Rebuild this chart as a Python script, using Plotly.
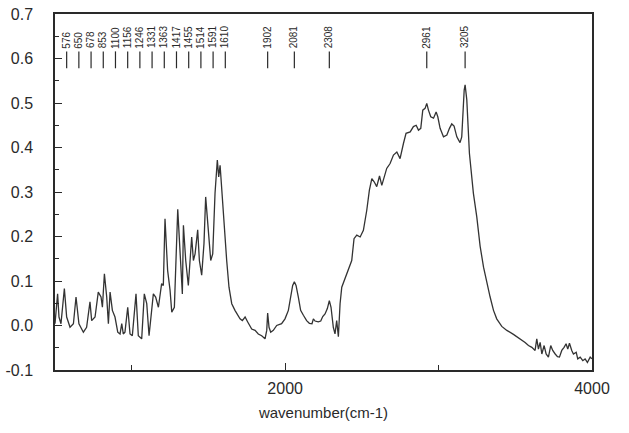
import plotly.graph_objects as go

# ---- data ----
wavenumber = [
    500, 511, 517, 526, 539, 561, 576, 598, 620, 637, 656, 685, 706, 728, 739, 761, 782, 800, 809, 822,
    837, 848, 859, 874, 891, 909, 924, 935, 945, 956, 974, 989, 1004, 1028, 1043, 1065, 1082, 1098, 1113,
    1141, 1156, 1174, 1195, 1206, 1217, 1234, 1250, 1261, 1278, 1300, 1315, 1330, 1337, 1352, 1369, 1391,
    1402, 1413, 1430, 1441, 1456, 1471, 1482, 1495, 1515, 1528, 1543, 1558, 1567, 1576, 1587, 1604, 1619,
    1634, 1652, 1673, 1691, 1706, 1721, 1739, 1756, 1782,
    1804, 1825, 1847, 1869, 1880, 1886, 1895, 1906, 1923, 1945, 1977, 1999, 2021, 2036, 2049, 2060, 2071,
    2086, 2101, 2119, 2140, 2158, 2175, 2184, 2195, 2216, 2232, 2245, 2260, 2275, 2288, 2299, 2314, 2325,
    2336, 2347,
    2358, 2369, 2391, 2413, 2434, 2449, 2467, 2489, 2510, 2532, 2549, 2565, 2580, 2597, 2615, 2630, 2645,
    2662, 2684, 2706, 2728, 2749, 2771, 2788, 2815, 2836, 2854, 2869, 2884, 2897, 2912, 2923, 2934, 2949,
    2967, 2984, 2995, 3010, 3032, 3054, 3071, 3086, 3101, 3119, 3130, 3140, 3151, 3158, 3167, 3173, 3184,
    3201, 3227, 3249,
    3271, 3293, 3314, 3336, 3358, 3379, 3412, 3445, 3488, 3532, 3564, 3586, 3608, 3629, 3640, 3651, 3662,
    3673, 3688, 3701, 3716, 3731, 3744, 3760, 3775, 3788, 3803, 3818, 3831, 3842, 3853, 3868, 3879, 3897,
    3907, 3923, 3940, 3955, 3970, 3988, 3999,
]
absorbance = [
    0.004, 0.049, 0.071, 0.019, 0.004, 0.083, 0.019, -0.004, 0.004, 0.064, 0.004, -0.015, -0.004, 0.053,
    0.011, 0.019, 0.075, 0.064, 0.041, 0.116, 0.064, 0.004, 0.075, 0.034, 0.019, -0.015, -0.019, 0.004,
    -0.019, -0.015, 0.041, -0.019, -0.023, 0.071, -0.023, -0.030, 0.071, 0.049, -0.023, 0.071, 0.064,
    0.041, 0.094, 0.090, 0.240, 0.124, 0.079, 0.030, 0.041, 0.261, 0.154, 0.071, 0.225, 0.146, 0.090,
    0.199, 0.146, 0.161, 0.215, 0.146, 0.113, 0.184, 0.289, 0.229, 0.146, 0.161, 0.297, 0.372, 0.334,
    0.360, 0.304, 0.199, 0.146, 0.086, 0.049, 0.034, 0.023, 0.015, 0.011, 0.019, 0.008, -0.008,
    -0.011, -0.019, -0.023, -0.030, -0.011, 0.028, -0.004, -0.015, -0.011, 0.000, 0.004, 0.015, 0.034,
    0.064, 0.090, 0.098, 0.090, 0.064, 0.034, 0.023, 0.011, 0.005, 0.004, 0.015, 0.010, 0.008, 0.010,
    0.020, 0.026, 0.038, 0.056, 0.041, -0.004, -0.019, 0.011, -0.025,
    0.049, 0.086, 0.105, 0.128, 0.146, 0.195, 0.203, 0.199, 0.214, 0.259, 0.304, 0.330, 0.323, 0.312,
    0.336, 0.315, 0.334, 0.353, 0.364, 0.383, 0.390, 0.375, 0.409, 0.432, 0.435, 0.447, 0.450, 0.439,
    0.443, 0.484, 0.488, 0.499, 0.484, 0.469, 0.466, 0.480, 0.469, 0.443, 0.424, 0.428, 0.443, 0.453,
    0.448, 0.424, 0.417, 0.411, 0.424, 0.484, 0.529, 0.541, 0.507, 0.387, 0.297, 0.244,
    0.178, 0.131, 0.094, 0.064, 0.034, 0.015, -0.002, -0.011, -0.020, -0.030, -0.038, -0.045, -0.049,
    -0.056, -0.030, -0.053, -0.038, -0.064, -0.045, -0.064, -0.071, -0.045, -0.056, -0.064, -0.070,
    -0.071, -0.056, -0.049, -0.041, -0.053, -0.040, -0.056, -0.064, -0.060, -0.075, -0.071, -0.079,
    -0.075, -0.083, -0.071, -0.075,
]
# fingerprint-region labels (crowded) and isolated high-wavenumber labels
cluster_labels = [576, 650, 678, 853, 1100, 1156, 1246, 1331, 1363, 1417, 1455, 1514, 1591, 1610]
single_labels = [1902, 2081, 2308, 2961, 3205]
y_tickvals = [-0.1, 0.0, 0.1, 0.2, 0.3, 0.4, 0.5, 0.6, 0.7]
y_ticktext = ["-0.1", "0.0", "0.1", "0.2", "0.3", "0.4", "0.5", "0.6", "0.7"]
x_tickvals = [2000, 4000]
x_ticktext = ["2000", "4000"]


def snap_to_peak(v, xs, ys, window=45):
    """Move a label onto the highest local maximum of the trace near its value."""
    best = None
    for i in range(1, len(xs) - 1):
        if abs(xs[i] - v) <= window and ys[i] >= ys[i - 1] and ys[i] >= ys[i + 1]:
            if best is None or ys[i] > ys[best]:
                best = i
    return float(xs[best]) if best is not None else float(v)


# crowded labels are fanned out evenly over the span they cover
n = len(cluster_labels)
lo, hi = cluster_labels[0], cluster_labels[-1]
cluster_pos = [lo + (hi - lo) * i / (n - 1) for i in range(n)]
single_pos = [snap_to_peak(v, wavenumber, absorbance) for v in single_labels]

all_labels = cluster_labels + single_labels
all_pos = cluster_pos + single_pos

INK = "#2a2a2a"
fig = go.Figure()
fig.add_trace(go.Scatter(x=wavenumber, y=absorbance, mode="lines",
                         line=dict(color="#333333", width=1.3), showlegend=False,
                         hoverinfo="skip"))

shapes = []
annotations = []
for v, p in zip(all_labels, all_pos):
    shapes.append(dict(type="line", xref="x", yref="y", x0=p, x1=p, y0=0.578, y1=0.616,
                       line=dict(color=INK, width=1.2)))
    annotations.append(dict(x=p, y=0.618, xref="x", yref="y", text=str(v), showarrow=False,
                            textangle=-90, xanchor="center", yanchor="bottom",
                            font=dict(size=10, color=INK, family="Liberation Sans, Arial")))

fig.update_layout(
    width=629, height=433,
    margin=dict(l=55, r=37, t=14, b=63),
    paper_bgcolor="white", plot_bgcolor="white",
    font=dict(family="Liberation Sans, Arial", size=16, color=INK),
    shapes=shapes, annotations=annotations,
    xaxis=dict(range=[500, 4000], tickvals=x_tickvals, ticktext=x_ticktext, automargin=False,
               ticks="inside", ticklen=7, tickwidth=1.2, tickcolor=INK, ticklabelstandoff=3,
               ticklabeloverflow="allow",
               minor=dict(dtick=1000, tick0=0, ticks="inside", ticklen=5, tickwidth=1.2, tickcolor=INK),
               showline=True, linecolor=INK, linewidth=1.5, mirror=True, showgrid=False, zeroline=False,
               title=dict(text="wavenumber(cm-1)", font=dict(size=15), standoff=12)),
    yaxis=dict(range=[-0.1, 0.7], tickvals=y_tickvals, ticktext=y_ticktext, automargin=False,
               ticks="inside", ticklen=7, tickwidth=1.2, tickcolor=INK, ticklabeloverflow="allow",
               minor=dict(dtick=0.05, tick0=0, ticks="inside", ticklen=4, tickwidth=1.2, tickcolor=INK),
               showline=True, linecolor=INK, linewidth=1.5, mirror=True, showgrid=False, zeroline=False,
               ticklabelstandoff=17),
)

fig.write_html("out.html", config={"displayModeBar": False},
               post_script="document.body.style.margin='0px';")
